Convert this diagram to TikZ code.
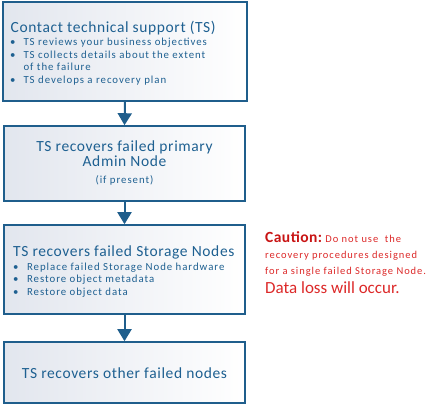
\documentclass[tikz,border=0pt]{standalone}
\usepackage{fontspec}
\setmainfont{Carlito}
\newfontfamily\ttlfont{Carlito}[LetterSpace=4]
\newfontfamily\bdyfont{Carlito}[LetterSpace=9]
\newfontfamily\cautfont{Carlito}[LetterSpace=3]
\usetikzlibrary{arrows.meta}
\definecolor{boxblue}{RGB}{31,94,140}
\definecolor{txtblue}{RGB}{30,96,145}
\definecolor{boxgray}{RGB}{226,230,238}
\definecolor{cautred}{RGB}{200,20,20}
\definecolor{cautred2}{RGB}{220,40,40}
\tikzset{
  stepbox/.style={draw=boxblue, line width=1.6bp, left color=boxgray, right color=white, minimum width=#1, inner sep=0pt},
  flowarrow/.style={draw=boxblue, line width=2bp, -{Triangle[width=14bp,length=12bp]}},
  big/.style={font=\ttlfont\fontsize{15.5bp}{16bp}\selectfont, text=txtblue, inner sep=0pt},
  small/.style={font=\bdyfont\fontsize{10.8bp}{12.5bp}\selectfont, text=txtblue, inner sep=0pt},
  caut/.style={inner sep=0pt, text=cautred2, anchor=base west},
}
\begin{document}
\begin{tikzpicture}[x=1bp,y=-1bp]
\useasboundingbox (0,0) rectangle (436,405);
\node[stepbox=244bp, minimum height=99bp] (b1) at (125,51.5) {};
\node[stepbox=241bp, minimum height=75bp] (b2) at (124.5,163.5) {};
\node[stepbox=241bp, minimum height=89bp] (b3) at (124.5,269.5) {};
\node[stepbox=241bp, minimum height=61bp] (b4) at (124.5,372.5) {};
\draw[flowarrow] (b1.south) -- (b2.north);
\draw[flowarrow] (b2.south) -- (b3.north);
\draw[flowarrow] (b3.south) -- (b4.north);
% box 1
\node[big, anchor=base west] (t1) at (10.5,32.3) {Contact technical support (TS)};
\node[small, anchor=base west] (l1) at (10,45.7) {%
\renewcommand\arraystretch{1}%
\begin{tabular}[t]{@{}l@{\hspace{8bp}}l@{}}
\textbullet & TS reviews your business objectives\\
\textbullet & TS collects details about the extent\\
 & of the failure\\
\textbullet & TS develops a recovery plan
\end{tabular}};
% box 2
\node[big, anchor=base] (t2) at (124.5,151.7) {TS recovers failed primary};
\node[big, anchor=base] (t2a) at (124.5,166.7) {Admin Node};
\node[small, anchor=base] (t2b) at (124.5,183.3) {(if present)};
% box 3
\node[big, anchor=base west] (t3) at (13,256) {TS recovers failed Storage Nodes};
\node[small, anchor=base west] (l3) at (13,270) {%
\renewcommand\arraystretch{1}%
\begin{tabular}[t]{@{}l@{\hspace{8.5bp}}l@{}}
\textbullet & Replace failed Storage Node hardware\\
\textbullet & Restore object metadata\\
\textbullet & Restore object data
\end{tabular}};
% box 4
\node[big, anchor=base] (t4) at (124.5,378.3) {TS recovers other failed nodes};
% caution
\node[caut] (c1) at (265,242) {{\cautfont\fontsize{15.5bp}{17bp}\selectfont\bfseries\color{cautred}Caution:}{\bdyfont\fontsize{10.5bp}{14bp}\selectfont\ Do not use\ \ the}};
\node[caut, font=\bdyfont\fontsize{10.5bp}{14bp}\selectfont] (c2) at (265,258) {recovery procedures designed};
\node[caut, font=\bdyfont\fontsize{10.5bp}{14bp}\selectfont] (c3) at (265,274) {for a single failed Storage Node.};
\node[caut, font=\fontsize{17bp}{18bp}\selectfont] (c4) at (265,293) {Data loss will occur.};
\end{tikzpicture}
\end{document}
